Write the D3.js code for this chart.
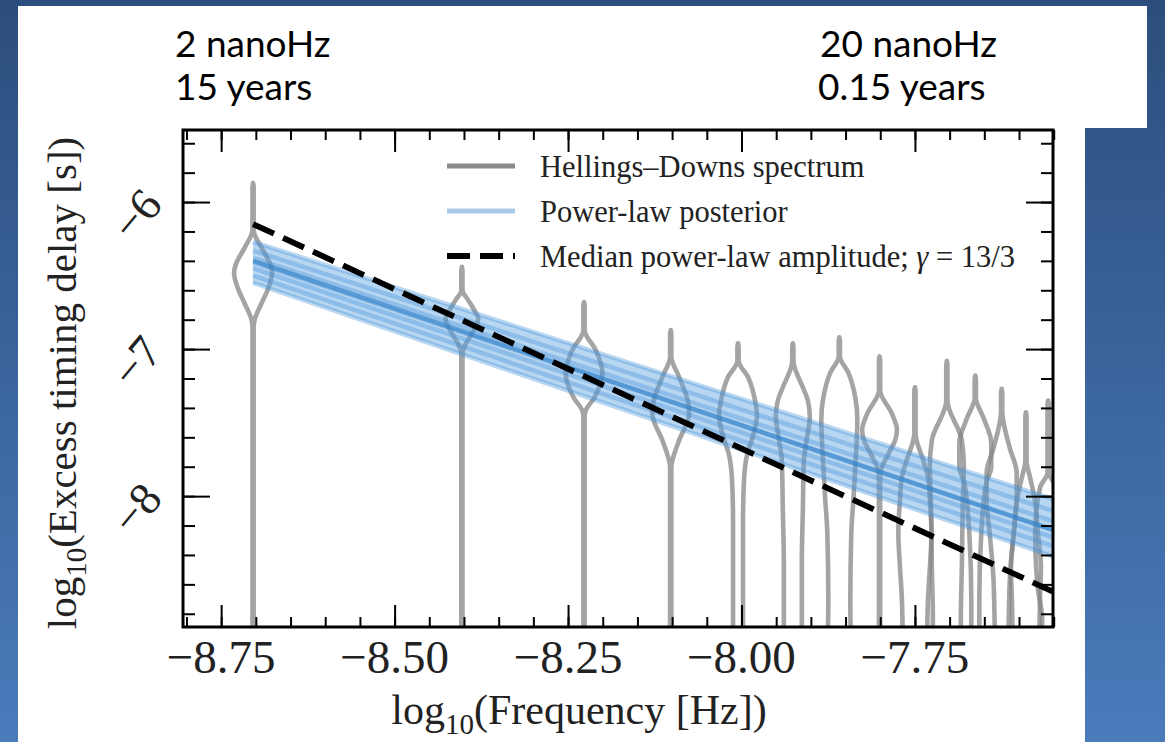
<!DOCTYPE html>
<html><head><meta charset="utf-8">
<script src="https://cdn.jsdelivr.net/npm/d3@7"></script>
<style>body{margin:0;overflow:hidden;} svg{display:block;}</style>
</head><body>
<svg id="c" width="1165" height="742"></svg>
<script>
// ---------------- data ----------------
const headerLeft = ["2 nanoHz", "15 years"];
const headerRight = ["20 nanoHz", "0.15 years"];
const xMajorTicks = [-8.75, -8.50, -8.25, -8.00, -7.75];
const yMajorTicks = [-6, -7, -8];
const xDomain = [-8.805, -7.551];
const yDomain = [-8.89, -5.51];
// log10 frequency of each Hellings-Downs violin (k / T)
const freqLog = [-8.704, -8.403, -8.227, -8.102, -8.005, -7.926, -7.859, -7.801, -7.750, -7.704, -7.663, -7.625, -7.590, -7.558];
// violin profiles: [log10 delay, relative density]
const violinProfiles = [
  [[-5.87,0],[-5.90,0.03],[-6.19,0.03],[-6.31,0.42],[-6.42,0.85],[-6.48,0.95],[-6.58,0.78],[-6.69,0.42],[-6.80,0.08],[-6.85,0.03],[-9.1,0.03]],
  [[-6.44,0],[-6.47,0.03],[-6.60,0.03],[-6.67,0.33],[-6.75,0.68],[-6.79,0.82],[-6.89,0.52],[-6.97,0.17],[-7.03,0.03],[-9.1,0.03]],
  [[-6.68,0],[-6.71,0.03],[-6.87,0.03],[-7.01,0.60],[-7.16,0.92],[-7.33,0.52],[-7.42,0.08],[-7.46,0.03],[-9.1,0.03]],
  [[-6.87,0],[-6.90,0.03],[-7.05,0.03],[-7.19,0.42],[-7.35,0.85],[-7.44,0.92],[-7.62,0.42],[-7.76,0.08],[-7.80,0.03],[-9.1,0.03]],
  [[-6.96,0],[-6.99,0.03],[-7.08,0.03],[-7.19,0.50],[-7.35,0.85],[-7.45,0.95],[-7.59,0.75],[-7.72,0.45],[-7.89,0.30],[-8.16,0.25],[-8.50,0.25],[-9.1,0.25]],
  [[-6.96,0],[-6.99,0.03],[-7.08,0.03],[-7.26,0.50],[-7.35,0.75],[-7.46,0.85],[-7.57,0.75],[-7.76,0.55],[-8.10,0.50],[-8.44,0.45],[-9.1,0.45]],
  [[-6.92,0],[-6.95,0.03],[-7.05,0.03],[-7.16,0.45],[-7.33,0.80],[-7.48,0.90],[-7.80,0.80],[-8.03,0.70],[-8.25,0.60],[-8.71,0.55],[-9.1,0.60]],
  [[-7.05,0],[-7.08,0.03],[-7.28,0.03],[-7.44,0.62],[-7.55,0.87],[-7.62,0.78],[-7.71,0.45],[-7.84,0.05],[-7.90,0.03],[-9.1,0.03]],
  [[-7.26,0],[-7.29,0.03],[-7.57,0.03],[-7.76,0.42],[-7.87,0.65],[-8.03,0.75],[-8.25,0.83],[-8.48,0.75],[-8.71,0.65],[-9.1,0.60]],
  [[-7.08,0],[-7.11,0.03],[-7.35,0.03],[-7.62,0.75],[-7.80,0.85],[-8.03,0.80],[-8.48,0.75],[-8.82,0.70],[-9.1,0.70]],
  [[-7.18,0],[-7.21,0.03],[-7.33,0.03],[-7.48,0.45],[-7.64,0.80],[-7.80,0.80],[-7.91,0.55],[-8.25,0.30],[-8.71,0.20],[-9.1,0.20]],
  [[-7.27,0],[-7.30,0.03],[-7.42,0.03],[-7.67,0.40],[-7.84,0.75],[-8.03,0.75],[-8.25,0.60],[-8.59,0.40],[-9.1,0.33]],
  [[-7.43,0],[-7.46,0.03],[-7.76,0.03],[-7.87,0.20],[-8.03,0.45],[-8.25,0.60],[-8.48,0.75],[-8.71,0.70],[-9.1,0.65]],
  [[-7.35,0],[-7.38,0.03],[-7.84,0.03],[-7.94,0.40],[-8.25,0.65],[-8.59,0.55],[-8.84,0.30],[-9.1,0.30]]
];
// power-law posterior samples: value at first frequency and at right edge
const postX = [-8.704, -7.551];
const postStart = [-6.27, -6.33, -6.38, -6.41, -6.45, -6.50, -6.55];
const postEnd   = [-8.02, -8.10, -8.17, -8.23, -8.28, -8.34, -8.41];
const postMedian = [-6.40, -8.23];
// median power-law amplitude, gamma = 13/3
const dashX = [-8.704, -7.551];
const dashY = [-6.15, -8.65];
const legendLabels = ["Hellings\u2013Downs spectrum", "Power-law posterior", "Median power-law amplitude; "];

// ---------------- drawing ----------------
const svg = d3.select("#c");
const defs = svg.append("defs");
const grad = defs.append("linearGradient").attr("id","bg").attr("x1",0).attr("y1",0).attr("x2",0).attr("y2",1);
grad.append("stop").attr("offset","0%").attr("stop-color","#2c4e7d");
grad.append("stop").attr("offset","100%").attr("stop-color","#4a7bbb");
svg.append("rect").attr("width",1165).attr("height",742).attr("fill","url(#bg)");
svg.append("path").attr("d","M18,6H1147V128H1085V742H18Z").attr("fill","#fff");

// header
const hdr = svg.append("g").attr("font-family","Lato, 'Open Sans', sans-serif").attr("font-size",37).attr("fill","#000");
hdr.append("text").attr("x",175).attr("y",57).text(headerLeft[0]);
hdr.append("text").attr("x",175).attr("y",100).text(headerLeft[1]);
hdr.append("text").attr("x",820).attr("y",57).text(headerRight[0]);
hdr.append("text").attr("x",818).attr("y",100).text(headerRight[1]);

const L = 183, R = 1053, T = 130, B = 627;
const x = d3.scaleLinear().domain(xDomain).range([L, R]);
const y = d3.scaleLinear().domain(yDomain).range([B, T]);
const w = d3.scaleLinear().domain([0, 1]).range([0, 20]);

defs.append("clipPath").attr("id","clip").append("rect").attr("x",L).attr("y",T).attr("width",R-L).attr("height",B-T);
const plot = svg.append("g").attr("clip-path","url(#clip)");

// violins
violinProfiles.forEach((prof, i) => {
  const cx = x(freqLog[i]);
  const area = d3.area().curve(d3.curveMonotoneY)
    .y(d => y(d[0])).x0(d => cx - w(d[1])).x1(d => cx + w(d[1]));
  plot.append("path").attr("d", area(prof)).attr("fill","none")
    .attr("stroke","#858585").attr("stroke-opacity",0.75).attr("stroke-width",4.6)
    .attr("stroke-linejoin","round");
});

// posterior band
const bandData = postX.map((v, j) => ({x: v, lo: j === 0 ? postStart[postStart.length-1] : postEnd[postEnd.length-1], hi: j === 0 ? postStart[0] : postEnd[0]}));
plot.append("path").attr("d", d3.area().x(d => x(d.x)).y0(d => y(d.lo)).y1(d => y(d.hi))(bandData))
  .attr("fill","#5fa3df").attr("fill-opacity",0.45);
const line = d3.line().x(d => x(d[0])).y(d => y(d[1]));
postStart.forEach((s, i) => {
  plot.append("path").attr("d", line([[postX[0], s],[postX[1], postEnd[i]]]))
    .attr("fill","none").attr("stroke","#3f8fd6").attr("stroke-opacity",0.35).attr("stroke-width",4.5);
});
plot.append("path").attr("d", line([[postX[0], postMedian[0]],[postX[1], postMedian[1]]]))
  .attr("fill","none").attr("stroke","#2f7fc8").attr("stroke-opacity",0.6).attr("stroke-width",4.5);

// dashed median
plot.append("path").attr("d", line([[dashX[0], dashY[0]],[dashX[1], dashY[1]]]))
  .attr("fill","none").attr("stroke","#000").attr("stroke-width",5.8).attr("stroke-dasharray","23,10");

// axes
const xMinor = d3.range(0, 26).map(i => -8.80 + i * 0.05);
const yMinor = d3.range(0, 17).map(i => -8.8 + i * 0.2);
const fmtX = d3.format(".2f"), fmtY = d3.format(".0f");
function styleAx(g){ g.select(".domain").remove(); g.selectAll("line").attr("stroke","#000").attr("stroke-width",2); }
svg.append("g").attr("transform",`translate(0,${B})`).call(d3.axisBottom(x).tickValues(xMinor).tickSize(-10).tickFormat("")).call(styleAx);
svg.append("g").attr("transform",`translate(0,${B})`).call(d3.axisBottom(x).tickValues(xMajorTicks).tickSize(-22).tickFormat("")).call(styleAx);
svg.append("g").attr("transform",`translate(0,${T})`).call(d3.axisTop(x).tickValues(xMinor).tickSize(-10).tickFormat("")).call(styleAx);
svg.append("g").attr("transform",`translate(0,${T})`).call(d3.axisTop(x).tickValues(xMajorTicks).tickSize(-22).tickFormat("")).call(styleAx);
svg.append("g").attr("transform",`translate(${L},0)`).call(d3.axisLeft(y).tickValues(yMinor).tickSize(-12).tickFormat("")).call(styleAx);
svg.append("g").attr("transform",`translate(${L},0)`).call(d3.axisLeft(y).tickValues(yMajorTicks).tickSize(-27).tickFormat("")).call(styleAx);
svg.append("g").attr("transform",`translate(${R},0)`).call(d3.axisRight(y).tickValues(yMinor).tickSize(-12).tickFormat("")).call(styleAx);
svg.append("g").attr("transform",`translate(${R},0)`).call(d3.axisRight(y).tickValues(yMajorTicks).tickSize(-27).tickFormat("")).call(styleAx);
svg.append("rect").attr("x",L).attr("y",T).attr("width",R-L).attr("height",B-T).attr("fill","none").attr("stroke","#000").attr("stroke-width",3);

const serif = "'Liberation Serif', 'Times New Roman', serif";
// x tick labels
svg.append("g").selectAll("text").data(xMajorTicks).join("text")
  .attr("x", d => x(d)).attr("y", 673).attr("text-anchor","middle")
  .attr("font-family", serif).attr("font-size", 47).attr("fill","#222").text(d => fmtX(d));
// y tick labels (rotated)
svg.append("g").selectAll("text").data(yMajorTicks).join("text")
  .attr("transform", d => `translate(136,${y(d) + 12}) rotate(-50)`)
  .attr("text-anchor","middle").attr("dy","0.35em")
  .attr("font-family", serif).attr("font-size", 46).attr("fill","#222").text(d => fmtY(d));

// axis titles
const xt = svg.append("text").attr("x",579).attr("y",724).attr("text-anchor","middle")
  .attr("font-family", serif).attr("font-size",42).attr("fill","#222");
xt.append("tspan").text("log");
xt.append("tspan").attr("font-size",29).attr("dy",10).text("10");
xt.append("tspan").attr("dy",-10).text("(Frequency [Hz])");

const yt = svg.append("text").attr("transform","translate(76,383) rotate(-90)").attr("text-anchor","middle")
  .attr("font-family", serif).attr("font-size",41).attr("fill","#222");
yt.append("tspan").text("log");
yt.append("tspan").attr("font-size",29).attr("dy",10).text("10");
yt.append("tspan").attr("dy",-10).text("(Excess timing delay [s])");

// legend
const lg = svg.append("g");
const rows = [166, 211, 256];
lg.append("line").attr("x1",447).attr("x2",515).attr("y1",rows[0]).attr("y2",rows[0]).attr("stroke","#8c8c8c").attr("stroke-width",5);
lg.append("line").attr("x1",447).attr("x2",515).attr("y1",rows[1]).attr("y2",rows[1]).attr("stroke","#a9c9e6").attr("stroke-width",5);
lg.append("line").attr("x1",447).attr("x2",515).attr("y1",rows[2]).attr("y2",rows[2]).attr("stroke","#000").attr("stroke-width",5.8).attr("stroke-dasharray","23,10");
legendLabels.forEach((t, i) => {
  const tx = lg.append("text").attr("x",540).attr("y",rows[i]).attr("dy","0.35em")
    .attr("font-family", serif).attr("font-size",30.5).attr("fill","#222").text(t);
  if (i === 2) {
    tx.append("tspan").attr("font-style","italic").text("\u03b3");
    tx.append("tspan").text(" = 13/3");
  }
});
</script>
</body></html>
